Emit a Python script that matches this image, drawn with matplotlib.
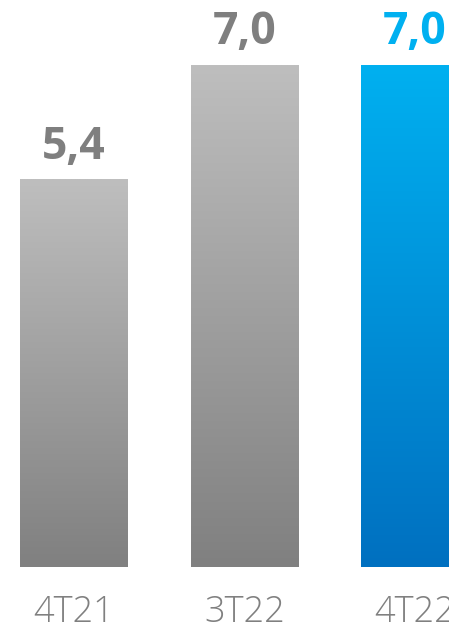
import numpy as np
import matplotlib
matplotlib.use("Agg")
import matplotlib.pyplot as plt
from matplotlib.colors import LinearSegmentedColormap

periods = ["4T21", "3T22", "4T22"]
values = [5.4, 7.0, 7.0]
label_texts = ["5,4", "7,0", "7,0"]
top_colors = ["#BEBEBE", "#BEBEBE", "#00B0F0"]
bottom_colors = ["#808080", "#808080", "#0070C0"]
label_colors = ["#7F7F7F", "#7F7F7F", "#00B0F0"]

fig = plt.figure(figsize=(4.49, 6.31), dpi=100)
ax = fig.add_axes([0, 0, 1, 1])
ax.set_xlim(-0.434, 2.199)
ax.set_ylim(-0.893, 7.908)
ax.axis("off")

width = 0.633
grad = np.linspace(0, 1, 256).reshape(-1, 1)
for i, (v, ct, cb) in enumerate(zip(values, top_colors, bottom_colors)):
    cmap = LinearSegmentedColormap.from_list(f"g{i}", [cb, ct])
    ax.imshow(grad, cmap=cmap, origin="lower", aspect="auto",
              extent=(i - width / 2, i + width / 2, 0, v), zorder=2)
    ax.annotate(label_texts[i], (i, v), xytext=(0, 15), textcoords="offset points",
                ha="center", va="baseline", fontsize=32, fontweight="bold",
                family=["Open Sans", "DejaVu Sans"], color=label_colors[i])
    ax.text(i, -0.77, periods[i], ha="center", va="baseline", fontsize=26,
            fontweight="light", family=["Open Sans", "DejaVu Sans"], color="#808080")

fig.savefig("out.png", dpi=100)
